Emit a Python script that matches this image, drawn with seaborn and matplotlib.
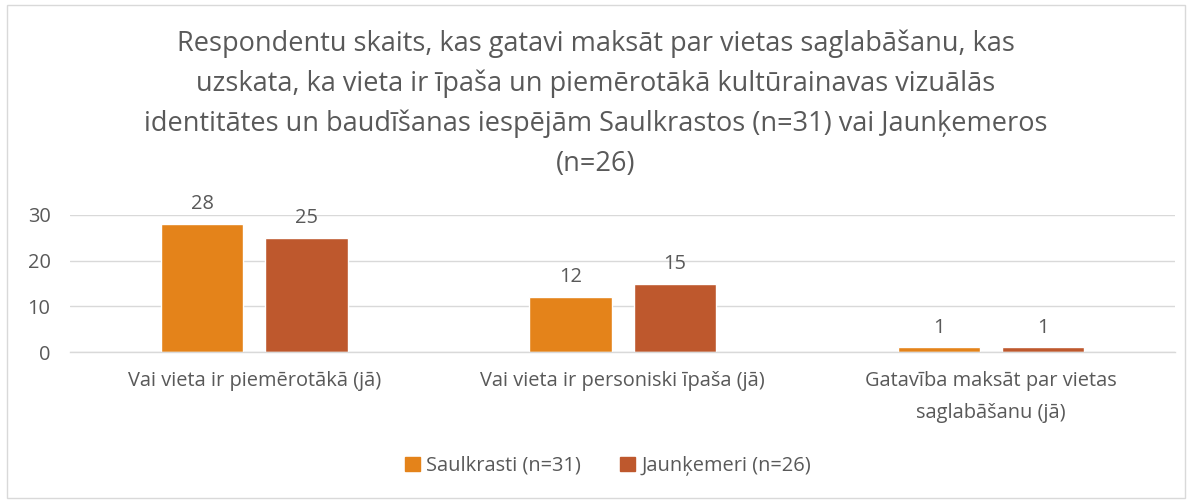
import matplotlib
matplotlib.use("Agg")
import matplotlib.pyplot as plt
import matplotlib.patches as mpatches
import seaborn as sns
import pandas as pd

categories = [
    "Vai vieta ir piemērotākā (jā)",
    "Vai vieta ir personiski īpaša (jā)",
    "Gatavība maksāt par vietas\nsaglabāšanu (jā)",
]
series_names = ["Saulkrasti (n=31)", "Jaunķemeri (n=26)"]
saulkrasti = [28, 12, 1]
jaunkemeri = [25, 15, 1]
colors = ["#E4831A", "#BE582D"]
yticks = [0, 10, 20, 30]
title = ("Respondentu skaits, kas gatavi maksāt par vietas saglabāšanu, kas\n"
         "uzskata, ka vieta ir īpaša un piemērotākā kultūrainavas vizuālās\n"
         "identitātes un baudīšanas iespējām Saulkrastos (n=31) vai Jaunķemeros\n"
         "(n=26)")

df = pd.DataFrame({
    "kategorija": categories * 2,
    "sērija": [series_names[0]] * 3 + [series_names[1]] * 3,
    "skaits": saulkrasti + jaunkemeri,
})

sns.set_theme(style="white")
plt.rcParams["font.family"] = ["Open Sans", "DejaVu Sans"]
text_color = "#595959"
fs = 14.4

fig = plt.figure(figsize=(11.92, 5.0), dpi=100)
ax = fig.add_axes([0.0587, 0.296, 0.9273, 0.274])

sns.barplot(data=df, x="kategorija", y="skaits", hue="sērija",
            palette=colors, width=0.566, gap=0.21, ax=ax,
            legend=False, errorbar=None, saturation=1)

for cont in ax.containers:
    ax.bar_label(cont, padding=7, fontsize=fs, color=text_color)

ax.set_ylim(0, 30)
ax.set_xlim(-0.5, 2.5)
ax.set_yticks(yticks)
ax.yaxis.grid(True, color="#D9D9D9", linewidth=1)
ax.set_axisbelow(True)
for s in ["top", "right", "left"]:
    ax.spines[s].set_visible(False)
ax.spines["bottom"].set_color("#D9D9D9")
ax.spines["bottom"].set_linewidth(1)
ax.tick_params(axis="both", length=0, labelsize=fs, colors=text_color)
ax.tick_params(axis="x", pad=14)
ax.tick_params(axis="y", pad=14)
for lbl in ax.get_xticklabels():
    lbl.set_linespacing(1.75)
ax.set_xlabel("")
ax.set_ylabel("")

fig.text(0.5, 0.942, title, ha="center", va="top", fontsize=19.5,
         color=text_color, linespacing=1.55)

handles = [mpatches.Patch(color=c, label=n) for c, n in zip(colors, series_names)]
fig.legend(handles=handles, loc="center", bbox_to_anchor=(0.51, 0.068), ncol=2,
           frameon=False, fontsize=fs, labelcolor=text_color,
           handlelength=0.75, handleheight=0.75, handletextpad=0.3, columnspacing=2.0)

fig.patches.append(mpatches.Rectangle((0.006, 0.004), 0.988, 0.986,
                                      transform=fig.transFigure, fill=False,
                                      edgecolor="#D9D9D9", linewidth=1))

fig.savefig("out.png", dpi=100, facecolor="white")
